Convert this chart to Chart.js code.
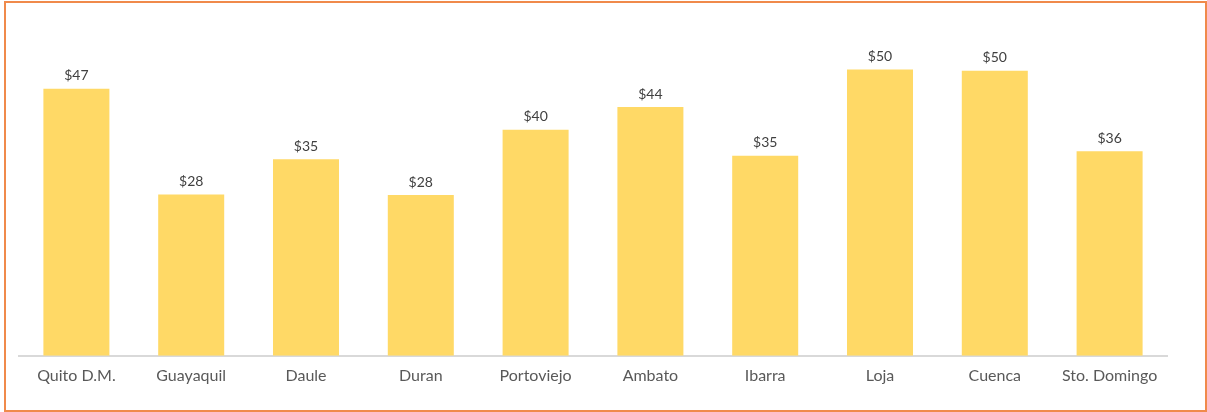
<!DOCTYPE html>
<html>
<head>
<meta charset="utf-8">
<script src="https://cdn.jsdelivr.net/npm/chart.js@4/dist/chart.umd.min.js"></script>
<style>
  body { margin: 0; background: #fff; }
  #marco {
    position: absolute; left: 4px; top: 1px;
    width: 1199px; height: 407px;
    border: 2px solid #F08A4B;
  }
</style>
</head>
<body>
<div id="marco"><canvas id="ciudadGrafico"></canvas></div>
<script>
const ciudades = [
    'Quito D.M.',
    'Guayaquil',
    'Daule',
    'Duran',
    'Portoviejo',
    'Ambato',
    'Ibarra',
    'Loja',
    'Cuenca',
    'Sto. Domingo',
];

const valores = [47.0, 28.4, 34.6, 28.3, 39.8, 43.8, 35.2, 50.4, 50.2, 36.0];

// etiquetas de valor encima de cada barra
const etiquetasValor = {
    id: 'etiquetasValor',
    afterDatasetsDraw(chart) {
        const ctx = chart.ctx;
        const meta = chart.getDatasetMeta(0);
        ctx.save();
        ctx.fillStyle = '#404040';
        ctx.font = '14px Lato';
        ctx.textAlign = 'center';
        ctx.textBaseline = 'bottom';
        meta.data.forEach((barra, i) => {
            ctx.fillText('$' + Math.round(valores[i]), barra.x, barra.y - 6);
        });
        ctx.restore();
    }
};

const grafico = document.getElementById('ciudadGrafico');

const data_ciudades = {
    labels: ciudades,
    datasets: [{
        label: 'Precio',
        data: valores,
        backgroundColor: '#FFD966',
        categoryPercentage: 1,
        barPercentage: 0.575
    }]
};

const config = {
    type: 'bar',
    data: data_ciudades,
    options: {
        responsive: true,
        maintainAspectRatio: false,
        animation: false,
        layout: {
            padding: { left: 13, right: 38, top: 12, bottom: 23 }
        },
        scales: {
            y: {
                display: false,
                min: 0,
                max: 60
            },
            x: {
                grid: { display: false },
                border: { color: '#D9D9D9', width: 2 },
                ticks: {
                    color: '#595959',
                    padding: 2,
                    font: { size: 16, family: 'Lato' }
                }
            }
        },
        plugins: {
            legend: { display: false },
            tooltip: { enabled: false }
        }
    },
    plugins: [etiquetasValor]
};

const grafico_ciudades = new Chart(grafico, config);
</script>
</body>
</html>
